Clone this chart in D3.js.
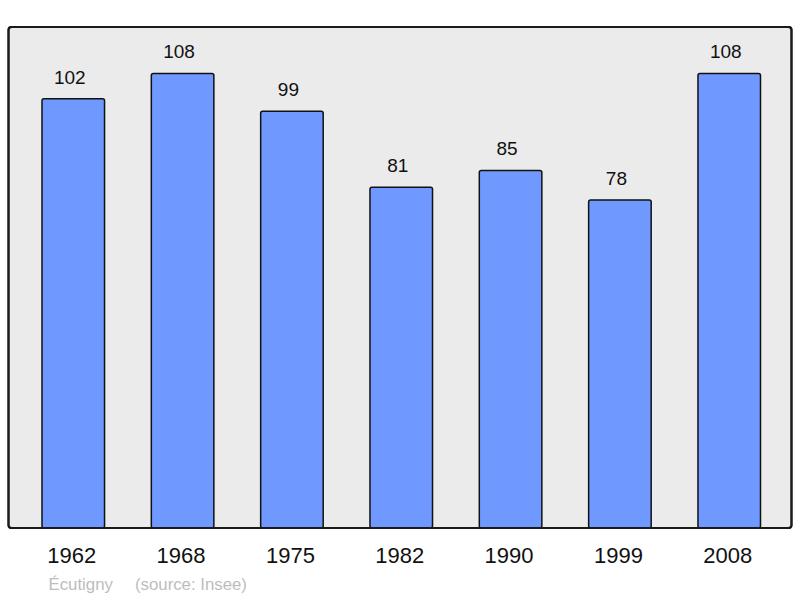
<!DOCTYPE html>
<html><head><meta charset="utf-8">
<script src="https://cdn.jsdelivr.net/npm/d3@7"></script>
<style>body{margin:0;background:#fff}svg{display:block}text{font-family:"Liberation Sans",Arial,sans-serif}</style>
</head><body><svg id="c" width="800" height="598"></svg>
<script>
const years = ["1962","1968","1975","1982","1990","1999","2008"];
const population = [102,108,99,81,85,78,108];
const place = "Écutigny";
const source = "(source: Insee)";

const svg = d3.select("#c");
const frame = {x0: 8.5, y0: 27, x1: 791.5, y1: 528};

svg.append("rect").attr("x", frame.x0).attr("y", frame.y0)
  .attr("width", frame.x1 - frame.x0).attr("height", frame.y1 - frame.y0)
  .attr("rx", 3).attr("fill", "#ebebeb").attr("stroke", "#1a1a1a").attr("stroke-width", 2);

const x = d3.scaleBand().domain(years).range([18.6, 783.9]).paddingInner(0.428).paddingOuter(0.214);
const y = d3.scaleLinear().domain([0, 119]).range([529, 27]);

const g = svg.append("g");
g.selectAll("rect.bar").data(years).enter().append("rect").attr("class","bar")
  .attr("x", d => x(d)).attr("width", x.bandwidth())
  .attr("y", (d,i) => y(population[i]))
  .attr("height", (d,i) => frame.y1 - y(population[i]))
  .attr("rx", 2)
  .attr("fill", "#7099ff").attr("stroke", "#111").attr("stroke-width", 1.5);

g.selectAll("text.val").data(years).enter().append("text").attr("class","val")
  .attr("x", d => x(d) + x.bandwidth()/2 - 3.5)
  .attr("y", (d,i) => y(population[i]) - 15)
  .attr("text-anchor","middle").attr("font-size", 19).attr("fill","#111")
  .text((d,i) => population[i]);

svg.append("rect").attr("x", frame.x0).attr("y", frame.y0)
  .attr("width", frame.x1 - frame.x0).attr("height", frame.y1 - frame.y0)
  .attr("rx", 3).attr("fill", "none").attr("stroke", "#1a1a1a").attr("stroke-width", 2);

const axis = d3.axisBottom(x).tickSize(0).tickPadding(0);
const ax = svg.append("g").attr("transform", `translate(-1.5,${frame.y1})`).call(axis);
ax.select(".domain").remove();
ax.selectAll("text").attr("y", 35).attr("dy", 0).attr("font-size", 22)
  .attr("fill", "#111").style("font-family", '"Liberation Sans",Arial,sans-serif');

svg.append("text").attr("x", 48.5).attr("y", 590).attr("font-size", 16.8).attr("fill", "#bdbdbd").text(place);
svg.append("text").attr("x", 135).attr("y", 590).attr("font-size", 16.8).attr("fill", "#bdbdbd").text(source);
</script></body></html>
